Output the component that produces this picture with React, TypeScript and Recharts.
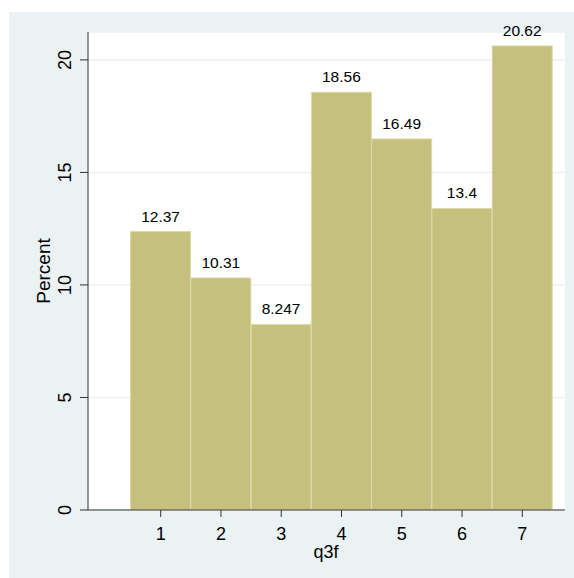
import { ComposedChart, Bar, XAxis, YAxis, CartesianGrid, LabelList } from "recharts";

const bins = [1, 2, 3, 4, 5, 6, 7];
const percents = [12.37, 10.31, 8.247, 18.56, 16.49, 13.4, 20.62];
const yTicks = [0, 5, 10, 15, 20];

const FONT = "'Liberation Sans', Arial, Helvetica, sans-serif";

const data = bins.map((b, i) => ({
  bin: b,
  percent: percents[i],
  label: String(parseFloat(percents[i].toPrecision(4))),
}));

function XTick(props: any) {
  const { x, y, payload } = props;
  return (
    <text x={x} y={y + 21} textAnchor="middle" fill="#000" fontSize={18} fontFamily={FONT}>
      {payload.value}
    </text>
  );
}

function YTick(props: any) {
  const { y, payload } = props;
  const bx = 71;
  return (
    <text
      x={bx}
      y={y}
      transform={`rotate(-90, ${bx}, ${y})`}
      textAnchor="middle"
      fill="#000"
      fontSize={18}
      fontFamily={FONT}
    >
      {payload.value}
    </text>
  );
}

function BarLabel(props: any) {
  const { x, y, width, value } = props;
  return (
    <text x={x + width / 2} y={y - 10} textAnchor="middle" fill="#000" fontSize={15.5} fontFamily={FONT}>
      {value}
    </text>
  );
}

export default function App() {
  return (
    <div style={{ position: "absolute", left: 0, top: 0, width: 574, height: 578, background: "#fff" }}>
      <div style={{ position: "absolute", left: 9, top: 12, width: 565, height: 566, background: "#eaf2f3" }} />
      <div style={{ position: "absolute", left: 0, top: 0 }}>
        <ComposedChart
          width={574}
          height={578}
          data={data}
          margin={{ top: 32, right: 9, bottom: 0, left: 0 }}
          barCategoryGap={0}
          barGap={0}
        >
          <CartesianGrid fill="#fff" stroke="#eaf2f3" strokeWidth={1.5} vertical={false} horizontal={true} />
          <XAxis
            dataKey="bin"
            type="number"
            domain={[-0.206, 7.708]}
            ticks={bins}
            allowDataOverflow
            height={68}
            tickSize={7}
            tickMargin={2}
            stroke="#333"
            tick={<XTick />}
            interval={0}
          />
          <YAxis
            type="number"
            domain={[0, 21.24]}
            ticks={yTicks}
            allowDataOverflow
            width={88}
            tickSize={8}
            stroke="#333"
            tick={<YTick />}
            interval={0}
          />
          <Bar dataKey="percent" fill="#c5c07e" stroke="#dcd8a8" strokeWidth={1} isAnimationActive={false}>
            <LabelList dataKey="label" content={<BarLabel />} />
          </Bar>
          <text x={50} y={271} transform="rotate(-90, 50, 271)" textAnchor="middle" fontSize={19} fontFamily={FONT} fill="#000">
            Percent
          </text>
          <text x={326} y={558} textAnchor="middle" fontSize={18} fontFamily={FONT} fill="#000">
            q3f
          </text>
        </ComposedChart>
      </div>
    </div>
  );
}
